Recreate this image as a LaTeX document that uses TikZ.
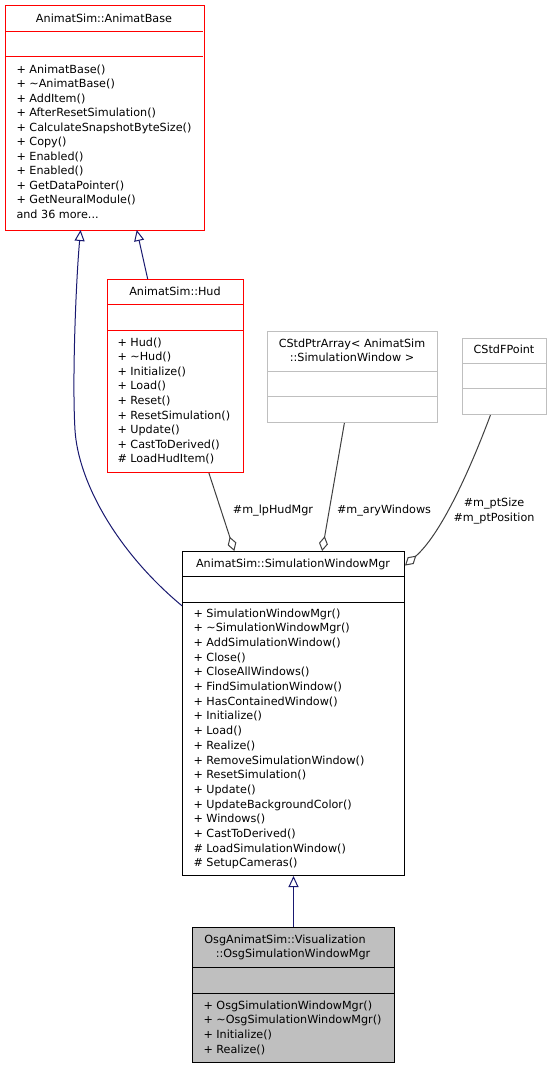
\documentclass[tikz,border=0pt]{standalone}
\usepackage{fontspec}
\setmainfont{DejaVu Sans}
\usetikzlibrary{arrows.meta}
\definecolor{edgeblue}{HTML}{191970}
\definecolor{edgegray}{HTML}{404040}
\definecolor{boxgray}{HTML}{BFBFBF}
\definecolor{boxred}{HTML}{FF0000}
\begin{document}
\begin{tikzpicture}[x=1pt, y=-1pt, line width=1pt,
  cls/.style={draw, rectangle, anchor=north west, inner sep=0pt},
  title/.style={font=\fontsize{11.2}{13}\selectfont, anchor=base, inner sep=0pt},
  op/.style={font=\fontsize{11.2}{13}\selectfont, anchor=base west, inner sep=0pt},
  lbl/.style={font=\fontsize{11.2}{13}\selectfont, inner sep=0pt},
  inherit/.style={draw=edgeblue, -{Triangle[open, length=11pt, width=10pt, fill=white]}},
  aggr/.style={draw=edgegray, -{Diamond[open, length=15pt, width=9pt, fill=white]}}]
\fill[white] (0,0) rectangle (551,1068);
\useasboundingbox (0,0) rectangle (551,1068);

% AnimatBase
\node[cls, draw=none, minimum width=198, minimum height=224] (animat) at (5,5) {};
\node[title] (animat-name) at (104,22) {AnimatSim::AnimatBase};
\foreach \t [count=\i from 0] in {+ AnimatBase(), + \textasciitilde{}AnimatBase(), + AddItem(),
  + AfterResetSimulation(), + CalculateSnapshotByteSize(), + Copy(), + Enabled(), + Enabled(),
  + GetDataPointer(), + GetNeuralModule(), and 36 more.\kern0pt.\kern0pt.}{
\node[op] (animat-op\i) at (16, {73+14.5*\i}) {\t};
}
\draw[boxred] (animat.north west) rectangle (animat.south east);
\draw[boxred] (5,31) -- (203,31);
\draw[boxred] (5,56) -- (203,56);

% Hud
\node[cls, draw=boxred, minimum width=136, minimum height=193] (hud) at (107,279) {};
\draw[boxred] (107,304) -- (243,304) (107,330) -- (243,330);
\node[title] (hud-name) at (175,295) {AnimatSim::Hud};
\foreach \t [count=\i from 0] in {+ Hud(), + \textasciitilde{}Hud(), + Initialize(), + Load(),
  + Reset(), + ResetSimulation(), + Update(), + CastToDerived(), \# LoadHudItem()}{
\node[op] (hud-op\i) at (117, {346+14.6*\i}) {\t};
}

% CStdPtrArray
\node[cls, draw=boxgray, minimum width=170, minimum height=91] (arr) at (267,331) {};
\draw[boxgray] (267,371) -- (437,371) (267,396) -- (437,396);
\node[title] (arr-name-a) at (352,347) {CStdPtrArray< AnimatSim};
\node[title] (arr-name-b) at (352,361) {::SimulationWindow >};

% CStdFPoint
\node[cls, draw=boxgray, minimum width=84, minimum height=76] (pt) at (462,338) {};
\draw[boxgray] (462,363) -- (546,363) (462,388) -- (546,388);
\node[title] (pt-name) at (504,353) {CStdFPoint};

% SimulationWindowMgr
\node[cls, draw=black, minimum width=222, minimum height=324] (mgr) at (182,551) {};
\draw (182,576) -- (404,576) (182,602) -- (404,602);
\node[title] (mgr-name) at (293,567) {AnimatSim::SimulationWindowMgr};
\foreach \t [count=\i from 0] in {+ SimulationWindowMgr(), + \textasciitilde{}SimulationWindowMgr(),
  + AddSimulationWindow(), + Close(), + CloseAllWindows(), + FindSimulationWindow(),
  + HasContainedWindow(), + Initialize(), + Load(), + Realize(), + RemoveSimulationWindow(),
  + ResetSimulation(), + Update(), + UpdateBackgroundColor(), + Windows(), + CastToDerived(),
  \# LoadSimulationWindow(), \# SetupCameras()}{
\node[op] (mgr-op\i) at (193, {617+14.7*\i}) {\t};
}

% OsgSimulationWindowMgr
\node[cls, draw=black, fill=boxgray, minimum width=202, minimum height=135] (osg) at (192,927) {};
\draw (192,967) -- (394,967) (192,993) -- (394,993);
\node[title] (osg-name-a) at (285,943) {OsgAnimatSim::Visualization};
\node[title] (osg-name-b) at (293,957) {::OsgSimulationWindowMgr};
\foreach \t [count=\i from 0] in {+ OsgSimulationWindowMgr(), + \textasciitilde{}OsgSimulationWindowMgr(),
  + Initialize(), + Realize()}{
\node[op] (osg-op\i) at (203, {1009+14.7*\i}) {\t};
}

% edges
\draw[inherit] (mgr.136) .. controls (115,550) and (78,480) .. (75,430)
  .. controls (72,380) and (76,280) .. (animat.258);
\draw[inherit] (hud.106) -- (animat.286);
\draw[aggr] (hud.289) -- (mgr.110);
\draw[aggr] (arr.260) -- (mgr.80);
\draw[aggr] (pt.250) .. controls (468,475) and (440,535) .. (mgr.53);
\draw[inherit] (osg.north) -- (mgr.south);

\node[lbl] (hud-lbl) at (273,511) {\#m\_lpHudMgr};
\node[lbl] (arr-lbl) at (384,511) {\#m\_aryWindows};
\node[lbl] (pt-lbl-a) at (494,504) {\#m\_ptSize};
\node[lbl] (pt-lbl-b) at (494,519) {\#m\_ptPosition};
\end{tikzpicture}
\end{document}
